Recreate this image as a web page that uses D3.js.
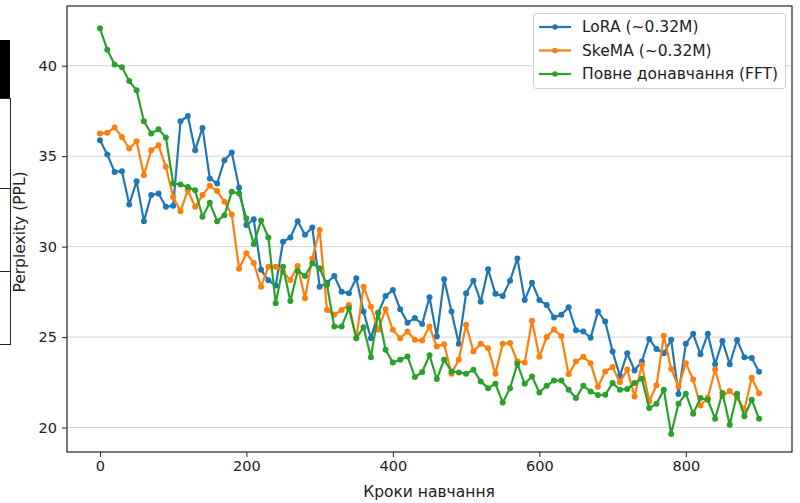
<!DOCTYPE html>
<html>
<head>
<meta charset="utf-8">
<script src="https://cdn.jsdelivr.net/npm/d3@7"></script>
<style>
  html, body { margin: 0; padding: 0; background: #fff; }
  svg { display: block; font-family: "DejaVu Sans", sans-serif; }
</style>
</head>
<body>
<svg id="chart" width="800" height="503"></svg>
<script>
const steps = d3.range(0, 910, 10);
const seriesNames = ["LoRA (~0.32M)", "SkeMA (~0.32M)", "Повне донавчання (FFT)"];
const seriesColors = ["#1f77b4", "#ff7f0e", "#2ca02c"];
const xTicks = [0, 200, 400, 600, 800];
const yTicks = [20, 25, 30, 35, 40];

const lora = [35.88, 35.09, 34.13, 34.17, 32.33, 33.62, 31.41, 32.85, 32.94, 32.20,
  32.26, 36.93, 37.22, 35.33, 36.56, 33.77, 33.49, 34.78, 35.20, 33.25,
  31.19, 31.51, 28.72, 28.14, 27.85, 30.27, 30.51, 31.40, 30.66, 31.06,
  27.79, 28.01, 28.38, 27.51, 27.42, 28.25, 26.41, 24.94, 26.35, 27.27,
  27.61, 26.54, 25.80, 26.05, 25.73, 27.20, 25.03, 28.20, 26.41, 24.63,
  27.42, 28.12, 26.96, 28.75, 27.39, 27.27, 28.12, 29.35, 27.05, 28.01,
  27.05, 26.78, 26.08, 26.23, 26.65, 25.38, 25.31, 24.97, 26.41, 25.86,
  24.20, 22.86, 24.11, 23.16, 23.65, 24.90, 24.34, 24.11, 24.85, 21.85,
  24.63, 25.18, 24.05, 25.18, 23.50, 24.79, 23.50, 24.84, 23.89, 23.84,
  23.08];
const skema = [36.25, 36.30, 36.58, 36.06, 35.42, 35.82, 33.95, 35.33, 35.60, 34.41,
  32.75, 31.96, 33.12, 32.20, 32.85, 33.36, 33.07, 32.48, 31.78, 28.78,
  29.63, 29.10, 27.79, 28.89, 28.89, 28.60, 28.16, 28.93, 27.15, 29.35,
  30.92, 26.50, 26.23, 26.50, 26.78, 24.94, 27.79, 26.68, 25.40, 26.54,
  25.40, 24.94, 25.31, 24.85, 24.81, 25.58, 24.48, 24.61, 22.97, 23.75,
  25.68, 24.20, 24.63, 24.39, 22.97, 24.63, 24.67, 23.65, 23.60, 25.91,
  23.91, 25.00, 25.42, 25.05, 22.95, 23.65, 23.91, 23.56, 22.25, 23.10,
  23.35, 22.50, 23.21, 21.72, 23.47, 21.45, 22.34, 25.07, 23.24, 22.25,
  23.56, 22.66, 21.22, 21.65, 23.21, 21.74, 22.02, 21.65, 20.99, 22.75,
  21.90];
const fft = [42.07, 40.88, 40.07, 39.92, 39.15, 38.64, 36.93, 36.25, 36.49, 36.03,
  33.49, 33.44, 33.29, 33.12, 31.65, 32.42, 31.41, 31.74, 33.03, 32.94,
  31.56, 30.15, 31.44, 30.51, 26.87, 28.89, 27.00, 28.67, 28.38, 29.08,
  28.80, 27.88, 25.58, 25.58, 26.60, 24.94, 25.55, 23.89, 26.35, 24.30,
  23.60, 23.75, 23.93, 22.79, 23.07, 24.00, 22.68, 23.75, 23.10, 23.05,
  22.97, 23.19, 22.55, 22.18, 22.42, 21.39, 22.18, 23.52, 22.42, 22.82,
  21.94, 22.31, 22.60, 22.60, 22.09, 21.63, 22.31, 22.00, 21.80, 21.81,
  22.46, 22.09, 22.13, 22.46, 22.70, 21.08, 21.32, 22.09, 19.65, 21.32,
  21.87, 20.77, 21.63, 21.54, 20.49, 21.91, 20.16, 21.87, 20.62, 21.54,
  20.49];

const allSeries = [lora, skema, fft];

const svg = d3.select("#chart");
const L = 67, R = 792, T = 6, B = 452;

// screenshot artifacts at the left edge
svg.append("rect").attr("x", 0).attr("y", 40).attr("width", 10).attr("height", 58).attr("fill", "#000");
const art = svg.append("g").attr("stroke", "#222").attr("stroke-width", 1).attr("fill", "none");
art.append("line").attr("x1", 10.5).attr("x2", 10.5).attr("y1", 98).attr("y2", 345);
[98.5, 188.5, 271.5, 344.5].forEach(yy => art.append("line").attr("x1", 0).attr("x2", 10.5).attr("y1", yy).attr("y2", yy));

const x = d3.scaleLinear().domain([-45, 945]).range([L, R]);
const y = d3.scaleLinear().domain([18.65, 43.3]).range([B, T]);

// grid
svg.append("g").selectAll("line").data(yTicks).join("line")
  .attr("x1", L).attr("x2", R)
  .attr("y1", d => y(d)).attr("y2", d => y(d))
  .attr("stroke", "#d4d4d4").attr("stroke-width", 1);

// series
const line = d3.line().x((d, i) => x(steps[i])).y(d => y(d));
allSeries.forEach((s, si) => {
  const g = svg.append("g");
  g.append("path").datum(s).attr("d", line)
    .attr("fill", "none").attr("stroke", seriesColors[si]).attr("stroke-width", 2.2)
    .attr("stroke-linejoin", "round");
  g.selectAll("circle").data(s).join("circle")
    .attr("cx", (d, i) => x(steps[i])).attr("cy", d => y(d)).attr("r", 3)
    .attr("fill", seriesColors[si]);
});

// axes
const xAxis = d3.axisBottom(x).tickValues(xTicks).tickSize(5).tickPadding(4).tickFormat(d3.format("d"));
const yAxis = d3.axisLeft(y).tickValues(yTicks).tickSize(5).tickPadding(5).tickFormat(d3.format("d"));
const gx = svg.append("g").attr("transform", `translate(0,${B})`).call(xAxis);
const gy = svg.append("g").attr("transform", `translate(${L},0)`).call(yAxis);
[gx, gy].forEach(g => {
  g.select(".domain").remove();
  g.selectAll("text").attr("font-size", 14.5).attr("fill", "#222").attr("font-family", "DejaVu Sans, sans-serif");
  g.selectAll("line").attr("stroke", "#222");
});

// frame
svg.append("rect").attr("x", L).attr("y", T).attr("width", R - L).attr("height", B - T)
  .attr("fill", "none").attr("stroke", "#222").attr("stroke-width", 1.2);

// axis labels
svg.append("text").attr("x", 429).attr("y", 497).attr("text-anchor", "middle")
  .attr("font-size", 15.5).attr("fill", "#222").text("Кроки навчання");
svg.append("text").attr("transform", "translate(25,232) rotate(-90)").attr("text-anchor", "middle")
  .attr("font-size", 15.5).attr("fill", "#222").text("Perplexity (PPL)");

// legend
const lg = svg.append("g");
lg.append("rect").attr("x", 533.5).attr("y", 13.5).attr("width", 252).attr("height", 75).attr("rx", 3)
  .attr("fill", "#fff").attr("fill-opacity", 0.85).attr("stroke", "#d0d0d0");
seriesNames.forEach((n, i) => {
  const yy = 27 + i * 23.5;
  lg.append("line").attr("x1", 539).attr("x2", 571).attr("y1", yy).attr("y2", yy)
    .attr("stroke", seriesColors[i]).attr("stroke-width", 2.2);
  lg.append("circle").attr("cx", 555).attr("cy", yy).attr("r", 2.8).attr("fill", seriesColors[i]);
  lg.append("text").attr("x", 582).attr("y", yy).attr("dy", "0.35em")
    .attr("font-size", 15.5).attr("fill", "#222").text(n);
});
</script>
</body>
</html>
